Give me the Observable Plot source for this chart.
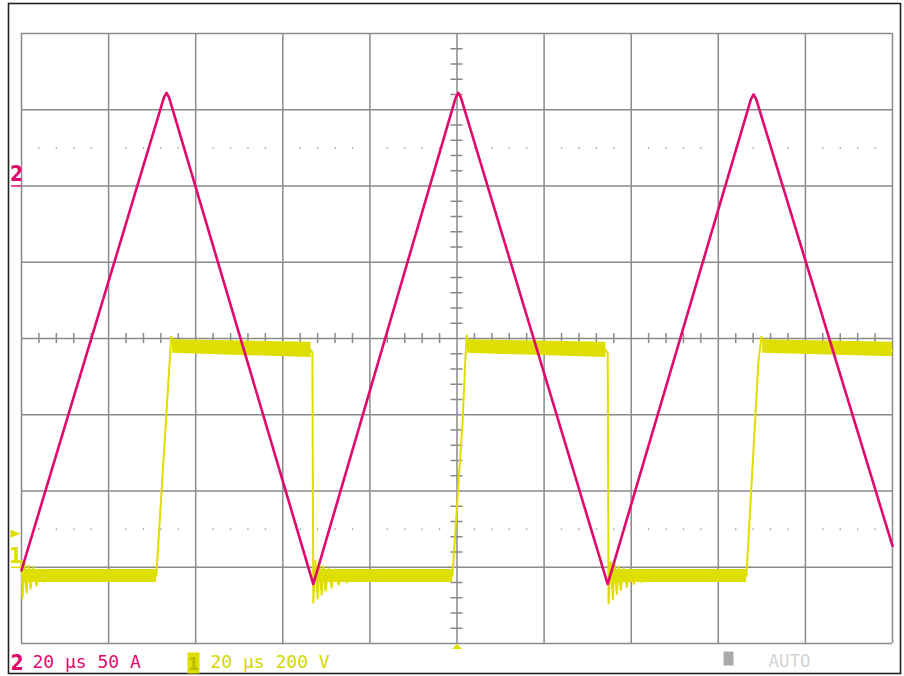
<!DOCTYPE html>
<html><head><meta charset="utf-8">
<script src="https://cdn.jsdelivr.net/npm/d3@7"></script>
<script src="https://cdn.jsdelivr.net/npm/@observablehq/plot@0.6"></script>
<style>html,body{margin:0;padding:0;background:#fff;} svg{display:block}</style>
</head><body><div id="chart"></div>
<script>
// ---- Scope settings ----
const timePerDiv = 20;      // μs/div
const ch2PerDiv = 50;       // A/div
const ch1PerDiv = 200;      // V/div
const ch2GroundDiv = 2;     // channel 2 zero marker (divisions above centre)
const ch1GroundDiv = -3;    // channel 1 zero marker
const triggerLevelV = 88;   // trigger level (V, channel 1)
const triggerTimeUs = 100;  // trigger position

// ---- Channel 2 (current, magenta) ----
const ch2Time = [0, 32.7, 33.3, 33.9, 67.0, 99.7, 100.3, 100.9, 134.6, 167.5, 168.1, 168.7, 200];
const ch2Amp  = [-252, 58, 61, 58, -261, 58, 61, 58, -261, 57, 60, 57, -236];

// ---- Channel 1 (voltage, yellow) ----
const ch1Time = [0, 0.23, 0.69, 1.15, 1.61, 2.07, 2.76, 3.44, 4.36, 5.28, 6.0, 31.0,
  31.0, 34.0, 34.4, 34.9, 35.5, 66.4, 66.8,
  67.0, 67.5, 68.0, 68.4, 68.9, 69.3, 69.8, 70.5, 71.2, 71.9, 72.8, 73.7, 74.6, 75.5, 99.0,
  99.0, 101.3, 101.95, 102.2, 102.6, 103.2, 134.1, 134.6,
  134.8, 135.3, 135.8, 136.2, 136.7, 137.1, 137.6, 138.3, 139.0, 139.7, 140.6, 141.5, 142.4, 143.3, 166.5,
  166.5, 169.2, 169.9, 170.4, 171.0, 200];
const ch1Volt = [17, -80, 9, -67, 4, -56, -1, -48, -6, -38, -22, -22,
  -14, 537, 605, 590, 579, 570, 563,
  -93, 17, -82, 7, -72, 2, -61, -4, -54, -6, -46, -9, -40, -22, -22,
  -14, 385, 555, 608, 590, 579, 570, 562,
  -95, 14, -84, 6, -70, 1, -60, -3, -52, -6, -44, -9, -39, -22, -22,
  -14, 537, 605, 590, 579, 568];

// ---- Channel 1 noise envelope on the flat parts ----
const noiseStart    = [0.5, 34.7, 67.8, 102.4, 135.6, 170.2];
const noiseEnd      = [31.0, 66.5, 99.0, 134.2, 166.5, 200];
const noiseMinStart = [-40, 561, -40, 561, -40, 561];
const noiseMaxStart = [-6, 597, -6, 597, -6, 597];
const noiseMinEnd   = [-40, 550, -40, 550, -40, 552];
const noiseMaxEnd   = [-6, 590, -6, 590, -6, 590];

// ---- Readout labels ----
const ch2Label = "2";
const ch2Readout = "20 μs 50 A";
const ch1Label = "1";
const ch1Readout = "20 μs 200 V";
const modeLabel = "AUTO";

// ---- Derived tables ----
const ampToDiv = a => a / ch2PerDiv + ch2GroundDiv;
const voltToDiv = v => v / ch1PerDiv + ch1GroundDiv;
const ch2 = ch2Time.map((t, i) => ({t, y: ampToDiv(ch2Amp[i])}));
const ch1 = ch1Time.map((t, i) => ({t, y: voltToDiv(ch1Volt[i])}));
const noise = noiseStart.flatMap((s, i) => [
  {t: s, lo: voltToDiv(noiseMinStart[i]), hi: voltToDiv(noiseMaxStart[i]), band: i},
  {t: noiseEnd[i], lo: voltToDiv(noiseMinEnd[i]), hi: voltToDiv(noiseMaxEnd[i]), band: i}
]);

const majorT = d3.range(0, 10 * timePerDiv + 1, timePerDiv);
const majorY = d3.range(-4, 5, 1);
const minorT = d3.range(0, 201, 4).filter(t => t % 20 !== 0);
const minorY = d3.range(-20, 21).map(k => k / 5).filter(v => Math.abs(v % 1) > 1e-9);
const dotRows = [2.5, -2.5].flatMap(y => minorT.map(t => ({t, y})));

const MAG = "#e00a6e";
const YEL = "#dede00";
const GRID = "#8a8a8a";

const triRight = {draw(c){c.moveTo(-5,-4);c.lineTo(5,0);c.lineTo(-5,4);c.closePath();}};
const triUp = {draw(c){c.moveTo(-5,2.5);c.lineTo(0,-2.5);c.lineTo(5,2.5);c.closePath();}};
const hLine = {draw(c){c.moveTo(-5,0);c.lineTo(5,0);}};
const box = (w, h) => ({draw(c){c.rect(-w/2,-h/2,w,h);}});

const mono = "'DejaVu Sans Mono', 'Liberation Mono', monospace";
const bold = "'DejaVu Sans Condensed', 'Liberation Sans Narrow', 'Liberation Sans', sans-serif";

const chart = Plot.plot({
  width: 904, height: 676,
  marginLeft: 21, marginRight: 12, marginTop: 33, marginBottom: 33,
  x: {domain: [0, 200], axis: null},
  y: {domain: [-4, 4], axis: null},
  style: {background: "#fff", overflow: "visible"},
  marks: [
    Plot.frame({insetLeft: -13, insetTop: -30, insetRight: -8, insetBottom: -30, stroke: "#222", strokeWidth: 1.6}),
    Plot.ruleX(majorT, {x: d => d, stroke: GRID, strokeWidth: 1.5}),
    Plot.ruleY(majorY, {y: d => d, stroke: GRID, strokeWidth: 1.5}),
    Plot.dot(dotRows, {x: "t", y: "y", r: 0.8, fill: "#999", stroke: null}),
    Plot.ruleX(minorT, {x: d => d, y1: -0.066, y2: 0.066, stroke: GRID, strokeWidth: 1.5}),
    Plot.ruleY(minorY, {y: d => d, x1: 100 - 1.4, x2: 100 + 1.4, stroke: GRID, strokeWidth: 1.5}),
    Plot.areaY(noise, {x: "t", y1: "lo", y2: "hi", z: "band", fill: YEL}),
    Plot.line(ch1, {x: "t", y: "y", stroke: YEL, strokeWidth: 2, strokeLinejoin: "round"}),
    Plot.line(ch2, {x: "t", y: "y", stroke: MAG, strokeWidth: 2.6, strokeLinejoin: "round"}),
    // left side markers
    Plot.dot([voltToDiv(triggerLevelV)], {y: d => d, frameAnchor: "left", dx: -6, symbol: triRight, r: 4, fill: YEL, stroke: null}),
    Plot.text([ch1Label], {text: d => d, y: () => ch1GroundDiv, frameAnchor: "left", dx: -6, dy: -4, textAnchor: "middle", lineAnchor: "bottom", fill: YEL, fontSize: 21, fontWeight: "bold", fontFamily: bold}),
    Plot.dot([ch1GroundDiv], {y: d => d, frameAnchor: "left", dx: -5.5, symbol: hLine, r: 4, stroke: YEL, strokeWidth: 1.5, fill: null}),
    Plot.text([ch2Label], {text: d => d, y: () => ch2GroundDiv, frameAnchor: "left", dx: -5, dy: -5, textAnchor: "middle", lineAnchor: "bottom", fill: MAG, fontSize: 21, fontWeight: "bold", fontFamily: bold}),
    Plot.dot([ch2GroundDiv], {y: d => d, frameAnchor: "left", dx: -5.5, symbol: hLine, r: 4, stroke: MAG, strokeWidth: 1.5, fill: null}),
    // trigger position marker
    Plot.dot([triggerTimeUs], {x: d => d, frameAnchor: "bottom", dy: 3, symbol: triUp, r: 4, fill: YEL, stroke: null}),
    // bottom readouts
    Plot.text([ch2Label], {text: d => d, frameAnchor: "bottom-left", dx: -11, dy: 26, textAnchor: "start", lineAnchor: "bottom", fill: MAG, fontSize: 21, fontWeight: "bold", fontFamily: bold}),
    Plot.text([ch2Readout], {text: d => d, frameAnchor: "bottom-left", dx: 11, dy: 24, textAnchor: "start", lineAnchor: "bottom", fill: MAG, fontSize: 18, fontFamily: mono}),
    Plot.dot([0], {frameAnchor: "bottom-left", dx: 172, dy: 19.5, symbol: box(12, 21), r: 4, fill: YEL, stroke: null}),
    Plot.text([ch1Label], {text: d => d, frameAnchor: "bottom-left", dx: 172, dy: 26, textAnchor: "middle", lineAnchor: "bottom", fill: "#bcbc00", fontSize: 18, fontWeight: "bold", fontFamily: bold}),
    Plot.text([ch1Readout], {text: d => d, frameAnchor: "bottom-left", dx: 189, dy: 24, textAnchor: "start", lineAnchor: "bottom", fill: "#d6d600", fontSize: 18, fontFamily: mono}),
    Plot.dot([0], {frameAnchor: "bottom-left", dx: 707, dy: 15, symbol: box(10, 14), r: 4, fill: "#aaa", stroke: null}),
    Plot.text([modeLabel], {text: d => d, frameAnchor: "bottom-left", dx: 747, dy: 23, textAnchor: "start", lineAnchor: "bottom", fill: "#d4d4d4", fontSize: 17.5, fontFamily: mono})
  ]
});
document.getElementById("chart").append(chart);
</script></body></html>
